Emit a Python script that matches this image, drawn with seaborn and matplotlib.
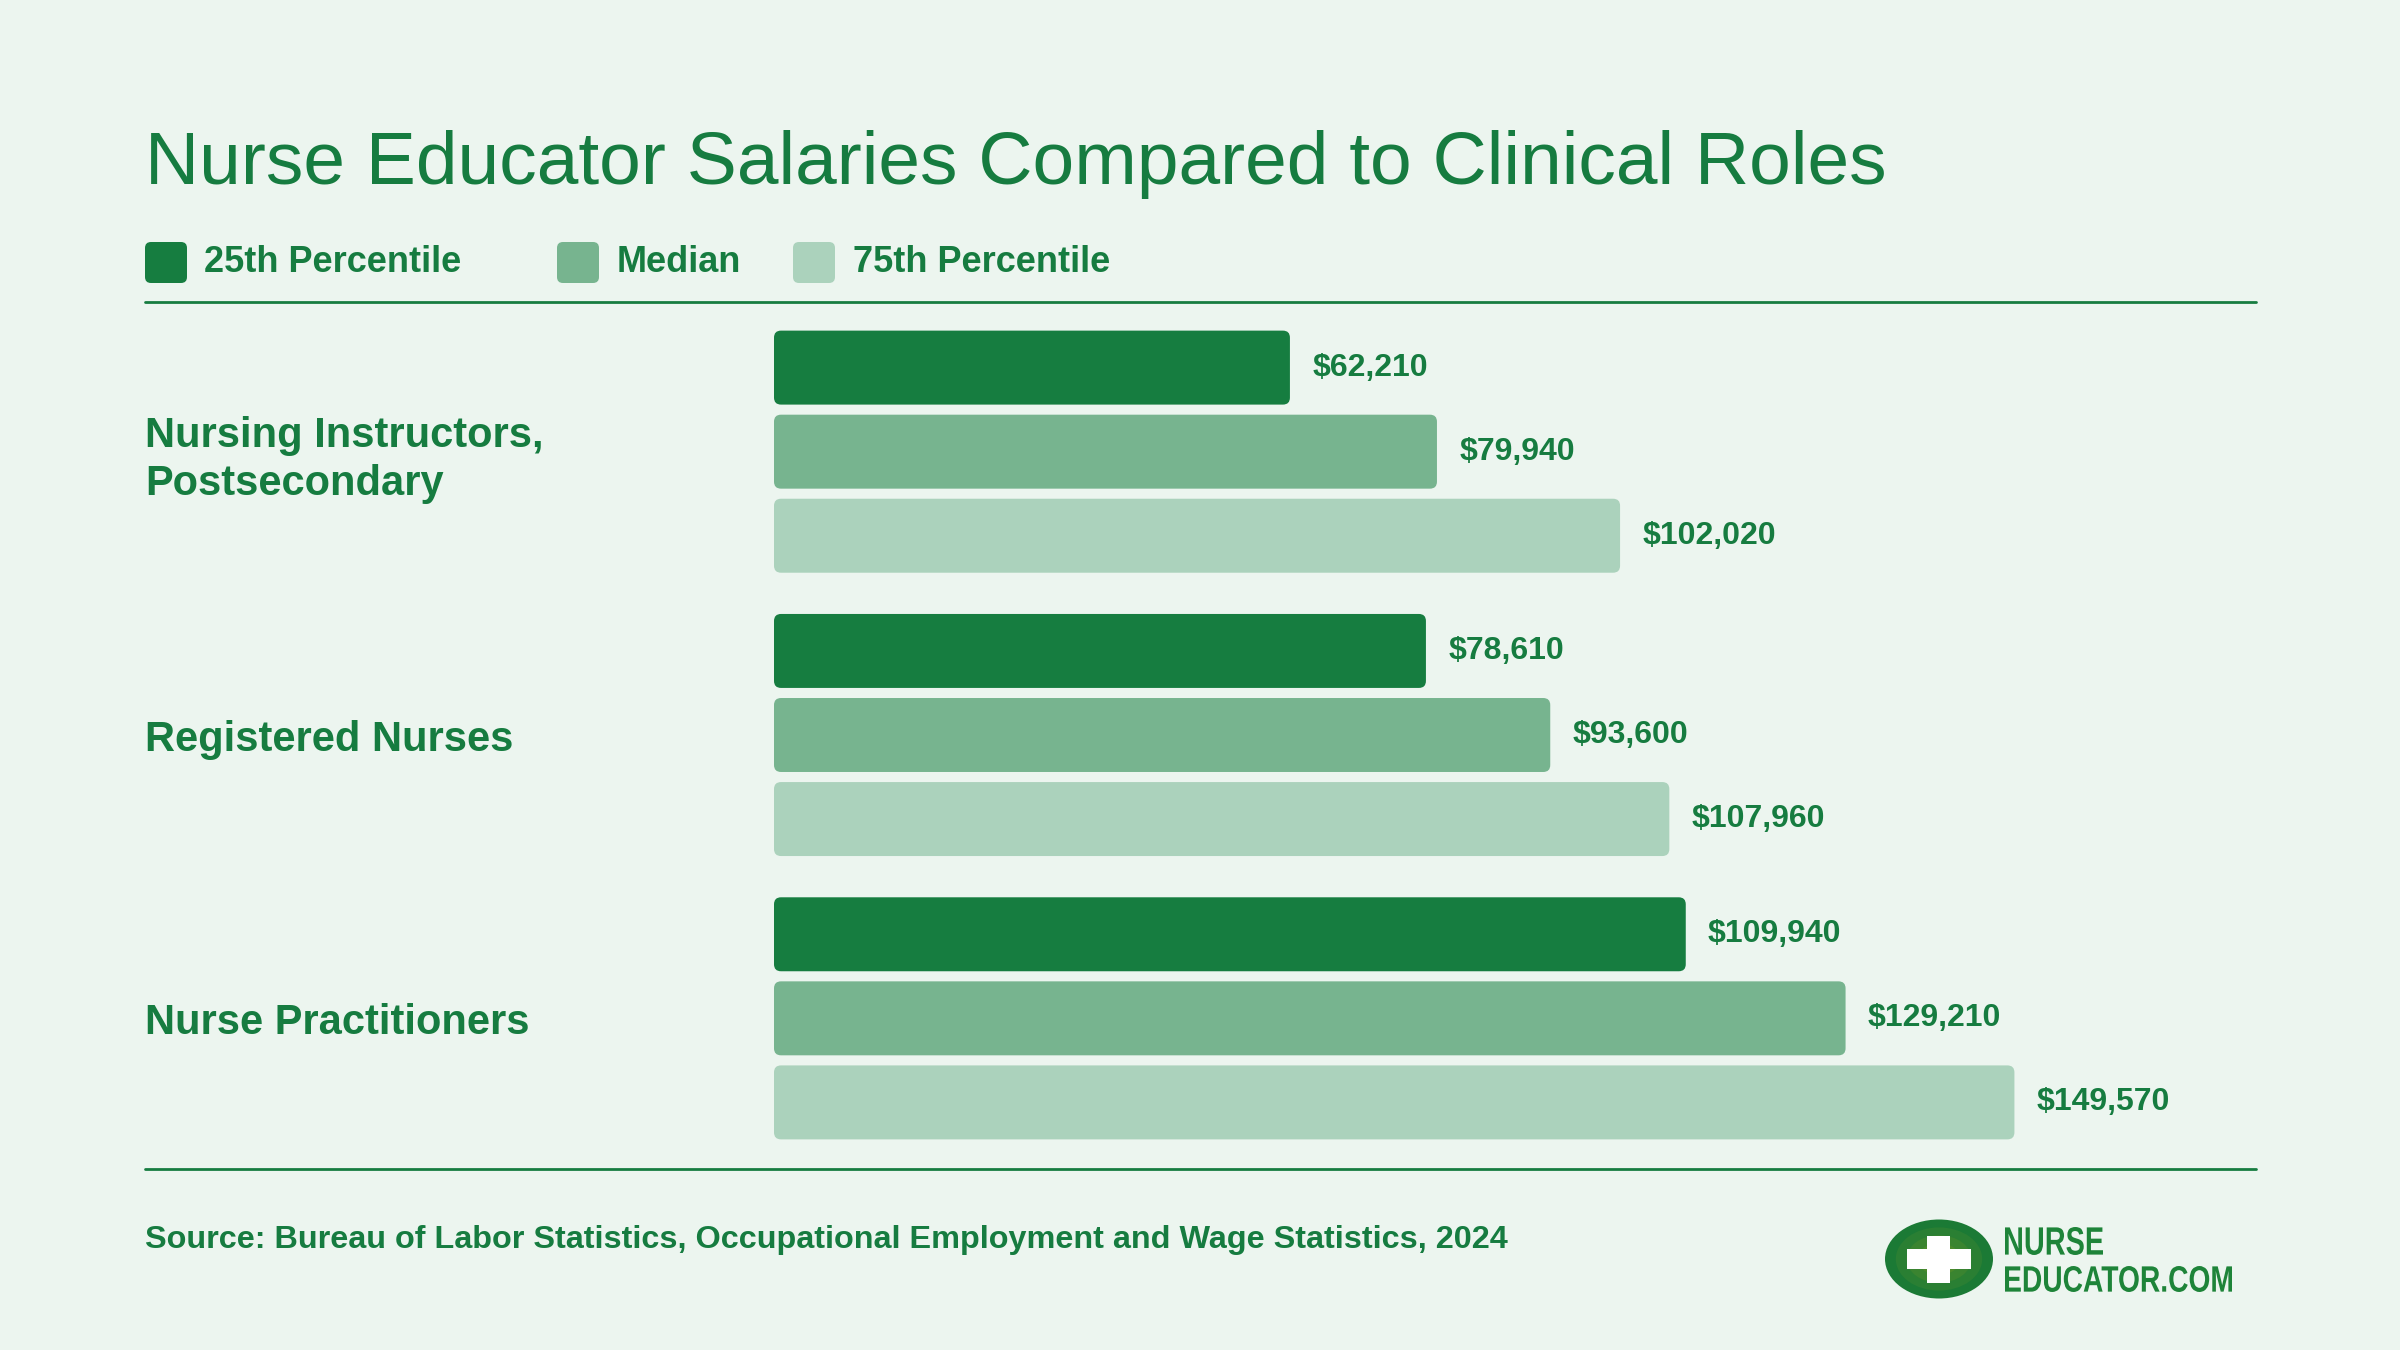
import numpy as np
import pandas as pd
import matplotlib.pyplot as plt
import seaborn as sns
from matplotlib.patches import FancyBboxPatch, Ellipse, Rectangle, PathPatch
from matplotlib.textpath import TextPath
from matplotlib.font_manager import FontProperties
from matplotlib.transforms import Affine2D

# data
roles = ["Nursing Instructors,\nPostsecondary", "Registered Nurses", "Nurse Practitioners"]
levels = ["25th Percentile", "Median", "75th Percentile"]
p25 = [62210, 78610, 109940]
median = [79940, 93600, 129210]
p75 = [102020, 107960, 149570]

title = "Nurse Educator Salaries Compared to Clinical Roles"
source = "Source: Bureau of Labor Statistics, Occupational Employment and Wage Statistics, 2024"

colors = ["#167D40", "#77B48F", "#ABD2BC"]
bg = "#ECF5EF"
green = "#167C40"

df = pd.DataFrame({
    "role": roles * 3,
    "level": np.repeat(levels, len(roles)),
    "salary": p25 + median + p75,
})

sns.set_theme(style="white")
plt.rcParams["font.family"] = ["Liberation Sans", "DejaVu Sans"]

W, H = 2400, 1350
fig = plt.figure(figsize=(24, 13.5), dpi=100, facecolor=bg)

# decoration layer in pixel coordinates
deco = fig.add_axes([0, 0, 1, 1])
deco.set_xlim(0, W)
deco.set_ylim(H, 0)
deco.axis("off")

ax = fig.add_axes([774 / W, 1 - 1160 / H, (2256 - 774) / W, (1160 - 310) / H])
ax.set_facecolor("none")
sns.barplot(data=df, x="salary", y="role", hue="level", order=roles,
            hue_order=levels, palette=colors, orient="h", width=0.89,
            gap=0.12, saturation=1, legend=False, ax=ax)

xmax = 178700
ax.set_xlim(0, xmax)
ax.set_ylim(2.5, -0.5)

for cont in ax.containers:
    ax.bar_label(cont, labels=[f"${v:,.0f}" for v in cont.datavalues],
                 padding=16, color=green, fontsize=23, fontweight="bold")

# rounded bar corners
aspect = (3 / 850) / (xmax / 1482)
r = 7 * xmax / 1482
for p in list(ax.patches):
    p.set_visible(False)
    ax.add_patch(FancyBboxPatch((p.get_x(), p.get_y()), p.get_width(), p.get_height(),
                                boxstyle=f"round,pad=0,rounding_size={r}",
                                mutation_aspect=aspect, fc=p.get_facecolor(), ec="none"))

ax.set_xlabel("")
ax.set_ylabel("")
ax.set_xticks([])
sns.despine(ax=ax, left=True, bottom=True)
ax.tick_params(axis="y", length=0, pad=453, labelsize=30, labelcolor=green)
for lab in ax.get_yticklabels():
    lab.set_ha("left")
    lab.set_fontweight("bold")
    lab.set_linespacing(1.25)

# title
deco.text(145, 184, title, fontsize=54, color=green, va="baseline")

# legend
for x0, tx, lvl, c in zip([145, 557, 793], [204, 617, 853], levels, colors):
    deco.add_patch(FancyBboxPatch((x0, 242), 42, 41, boxstyle="round,pad=0,rounding_size=6",
                                  fc=c, ec="none"))
    deco.text(tx, 263, lvl, va="center", fontsize=26, fontweight="bold", color=green)

# rules
deco.plot([145, 2256], [302, 302], color=green, lw=2)
deco.plot([145, 2256], [1169, 1169], color=green, lw=2)

deco.text(145, 1240, source, va="center", fontsize=23.3, fontweight="bold", color=green)

# logo
for k, c in enumerate(["#1B7A35", "#2A7F33", "#3A8430", "#4B8A2C"]):
    s = 1 - k * 0.2
    deco.add_patch(Ellipse((1939, 1259), 108 * s, 79 * s, fc=c, ec="none"))
deco.add_patch(Rectangle((1907, 1249), 64, 20, fc="white", ec="none"))
deco.add_patch(Rectangle((1927, 1236), 23, 47, fc="white", ec="none"))


def condensed(txt, x0, x1, top, base):
    tp = TextPath((0, 0), txt, size=100, prop=FontProperties(family="Liberation Sans", weight="bold"))
    ext = tp.get_extents()
    sx = (x1 - x0) / ext.width
    sy = (base - top) / ext.height
    tr = Affine2D().translate(-ext.x0, -ext.y0).scale(sx, -sy).translate(x0, base) + deco.transData
    deco.add_patch(PathPatch(tp, transform=tr, fc="#1E8439", ec="none"))


condensed("NURSE", 2005, 2103, 1227, 1255)
condensed("EDUCATOR.COM", 2005, 2232, 1266, 1292)

fig.savefig("out.png", dpi=100, facecolor=bg)
